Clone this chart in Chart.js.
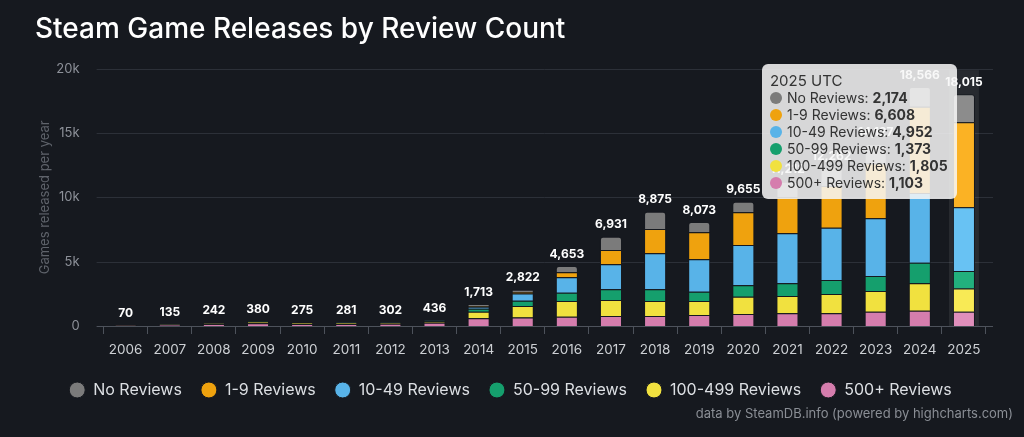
<!DOCTYPE html>
<html>
<head>
<meta charset="utf-8">
<script src="https://cdn.jsdelivr.net/npm/chart.js@4.4.1/dist/chart.umd.min.js"></script>
<style>
html,body{margin:0;padding:0;background:#16191f;}
#wrap{position:relative;width:1024px;height:437px;overflow:hidden;}
#tt{position:absolute;display:none;background:rgba(247,247,247,0.86);border-radius:6px;padding:8px 9px 8px 8px;font-family:Inter,"Noto Sans",sans-serif;font-size:14px;line-height:17px;color:#333;white-space:nowrap;box-sizing:border-box;}
#tt .h{font-size:15px;}
#tt .r{display:flex;align-items:center;}
#tt .d{display:inline-block;width:12px;height:12px;border-radius:50%;margin-right:5px;}
#tt b{font-weight:700;margin-left:4px;}
#credits{position:absolute;right:11px;top:405px;font-family:Inter,"Noto Sans",sans-serif;font-size:13px;color:#8a8e95;white-space:nowrap;}
</style>
</head>
<body>
<div id="wrap">
<canvas id="c" width="1024" height="437"></canvas>
<div id="tt"></div>
<div id="credits">data by SteamDB.info (powered by highcharts.com)</div>
</div>
<script>
// ---- data ----
const years = ['2006','2007','2008','2009','2010','2011','2012','2013','2014','2015','2016','2017','2018','2019','2020','2021','2022','2023','2024','2025'];
const noReviews       = [1,2,3,5,4,4,4,6,163,172,483,1031,1345,793,825,1202,1382,1507,1536,2174];
const reviews1to9     = [1,2,4,6,5,5,5,8,60,120,390,1110,1880,2100,2540,2800,3250,4250,6700,6608];
const reviews10to49   = [3,6,12,24,16,16,18,30,150,560,1190,1940,2800,2520,3130,3890,4060,4480,5410,4952];
const reviews50to99   = [5,10,18,30,20,20,22,35,230,420,650,830,910,720,880,980,1080,1170,1600,1373];
const reviews100to499 = [18,35,60,95,70,71,75,112,510,880,1220,1240,1160,1090,1350,1340,1500,1610,2130,1805];
const reviews500plus  = [42,80,145,220,160,165,178,245,600,670,720,780,780,850,930,1000,990,1110,1190,1103];
const yTicks = [0,5000,10000,15000,20000];

const totals = years.map((_, i) => noReviews[i] + reviews1to9[i] + reviews10to49[i] + reviews50to99[i] + reviews100to499[i] + reviews500plus[i]);

const BG = '#16191f';
const FONT = 'Inter, "Noto Sans", sans-serif';
const fmt = v => v.toLocaleString('en-US');

// bottom-to-top stacking order
const series = [
  {label:'500+ Reviews',    data:reviews500plus,  color:'#d57dad', hover:'#e08fbb'},
  {label:'100-499 Reviews', data:reviews100to499, color:'#f1e13f', hover:'#f8ea55'},
  {label:'50-99 Reviews',   data:reviews50to99,   color:'#159f6d', hover:'#22b07d'},
  {label:'10-49 Reviews',   data:reviews10to49,   color:'#58b3e8', hover:'#68c2f3'},
  {label:'1-9 Reviews',     data:reviews1to9,     color:'#efa20e', hover:'#fbb224'},
  {label:'No Reviews',      data:noReviews,       color:'#7b7b7b', hover:'#8c8c8c'}
];

const datasets = series.map(s => ({
  label: s.label,
  data: s.data,
  backgroundColor: s.color,
  hoverBackgroundColor: s.hover,
  borderColor: BG,
  hoverBorderColor: BG,
  borderWidth: 1,
  hoverBorderWidth: 1,
  borderRadius: 3,
  categoryPercentage: 1,
  barPercentage: 0.5
}));

const gridPlugin = {
  id: 'gridExt',
  beforeDatasetsDraw(chart) {
    const {ctx, chartArea, scales} = chart;
    const y = scales.y, x = scales.x;
    ctx.save();
    yTicks.forEach(v => {
      const py = Math.round(y.getPixelForValue(v)) + 0.5;
      ctx.strokeStyle = v === 0 ? '#4d525b' : '#2c3038';
      ctx.lineWidth = 1;
      ctx.beginPath();
      ctx.moveTo(chartArea.left - 7, py);
      ctx.lineTo(chartArea.right + 7, py);
      ctx.stroke();
    });
    const act = chart.getActiveElements();
    if (act.length) {
      const i = act[0].index;
      const cx = x.getPixelForValue(i);
      const w = (x.getPixelForValue(1) - x.getPixelForValue(0)) * 0.68;
      ctx.fillStyle = 'rgba(255,255,255,0.075)';
      ctx.fillRect(cx - w / 2, chartArea.top + 1.5, w, chartArea.bottom - chartArea.top - 1.5);
    }
    ctx.restore();
  }
};

const totalsPlugin = {
  id: 'totals',
  afterDatasetsDraw(chart) {
    const {ctx, scales} = chart;
    ctx.save();
    ctx.font = 'bold 12px ' + FONT;
    ctx.fillStyle = '#ffffff';
    ctx.textAlign = 'center';
    ctx.textBaseline = 'middle';
    totals.forEach((t, i) => {
      ctx.fillText(fmt(t), scales.x.getPixelForValue(i), scales.y.getPixelForValue(t) - 12);
    });
    ctx.restore();
  }
};

function externalTooltip(context) {
  const tt = context.tooltip;
  const el = document.getElementById('tt');
  if (!tt || tt.opacity === 0 || !tt.dataPoints || !tt.dataPoints.length) { el.style.display = 'none'; return; }
  const dp = tt.dataPoints;
  let html = '<div class="h">' + dp[0].label + ' UTC</div>';
  dp.forEach(p => {
    html += '<div class="r"><span class="d" style="background:' + p.dataset.backgroundColor + '"></span>' +
      p.dataset.label + ':<b>' + fmt(p.raw) + '</b></div>';
  });
  el.innerHTML = html;
  el.style.display = 'block';
  const bx = dp[0].element.x;
  el.style.left = (bx - 7 - el.offsetWidth) + 'px';
  el.style.top = (context.chart.chartArea.top - 4.5) + 'px';
}

const chart = new Chart(document.getElementById('c'), {
  type: 'bar',
  data: { labels: years, datasets },
  plugins: [gridPlugin, totalsPlugin],
  options: {
    responsive: false,
    animation: false,
    events: [],
    layout: { padding: { left: 35, right: 38, top: 0, bottom: 29 } },
    scales: {
      x: {
        stacked: true,
        afterFit(s) { s.height = 37; },
        grid: { display: true, drawOnChartArea: false, drawTicks: true, tickLength: 8, tickColor: '#4d525b' },
        border: { display: false },
        ticks: { color: '#cdd0d4', font: { family: FONT, size: 13.5 }, padding: 8, maxRotation: 0, autoSkip: false }
      },
      y: {
        stacked: true,
        min: 0, max: 20000,
        afterFit(s) { s.width = 68.6; },
        afterBuildTicks(s) { s.ticks = yTicks.map(v => ({ value: v })); },
        grid: { display: false, drawTicks: false },
        border: { display: false },
        ticks: { color: '#8d9199', font: { family: FONT, size: 13 }, padding: 24,
                 callback: v => v === 0 ? '0' : (v / 1000) + 'k' },
        title: { display: true, text: 'Games released per year', color: '#5f636b',
                 font: { family: FONT, size: 13 }, padding: { top: 2, bottom: 0 } }
      }
    },
    plugins: {
      title: {
        display: true, text: 'Steam Game Releases by Review Count', align: 'start',
        color: '#ffffff', font: { family: FONT, size: 28, weight: '500' },
        padding: { top: 13, bottom: 22 }
      },
      legend: {
        position: 'bottom', reverse: true,
        labels: { usePointStyle: true, pointStyle: 'circle', boxHeight: 11.3, pointStyleWidth: 16,
                  color: '#dcdfe3', font: { family: FONT, size: 16 }, padding: 19 }
      },
      tooltip: {
        enabled: false, mode: 'index', intersect: false,
        itemSort: (a, b) => b.datasetIndex - a.datasetIndex,
        external: externalTooltip
      }
    }
  }
});

const idx = years.length - 1;
const active = datasets.map((d, i) => ({ datasetIndex: i, index: idx }));
chart.setActiveElements(active);
const el0 = chart.getDatasetMeta(0).data[idx];
chart.tooltip.setActiveElements(active, { x: el0.x, y: el0.y });
chart.update('none');
</script>
</body>
</html>
